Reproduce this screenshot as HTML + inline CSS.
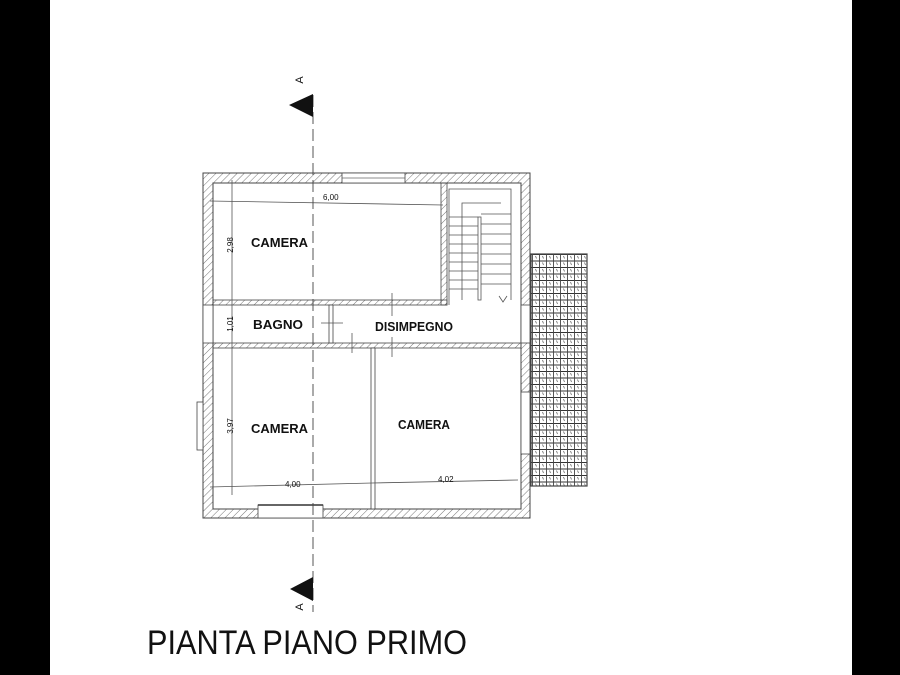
<!DOCTYPE html>
<html><head><meta charset="utf-8"><style>
html,body{margin:0;padding:0;background:#fff}
svg{display:block}
text{font-family:"Liberation Sans",Arial,sans-serif;fill:#111}
.l{font-weight:bold;font-size:13px}
</style></head><body>
<svg width="900" height="675" viewBox="0 0 900 675" xmlns="http://www.w3.org/2000/svg">
<defs>
<pattern id="h" width="5" height="5" patternUnits="userSpaceOnUse" patternTransform="rotate(45)">
<line x1="0" y1="0" x2="0" y2="5" stroke="#666" stroke-width="0.9"/>
</pattern>
<pattern id="g" x="531" y="254" width="7" height="6.5" patternUnits="userSpaceOnUse">
<line x1="0" y1="0.5" x2="7" y2="0.5" stroke="#333" stroke-width="1"/>
<line x1="1.5" y1="0" x2="1.5" y2="6.5" stroke="#444" stroke-width="0.9"/>
<line x1="4.5" y1="2" x2="5.5" y2="4.5" stroke="#666" stroke-width="0.8"/>
</pattern>
</defs>
<rect x="0" y="0" width="50" height="675" fill="#000"/>
<rect x="852" y="0" width="48" height="675" fill="#000"/>

<rect x="531" y="254" width="56" height="232" fill="url(#g)" stroke="#444" stroke-width="1.2"/>

<path d="M203,173 L530,173 L530,518 L203,518 Z M213,183 L213,509 L521,509 L521,183 Z" fill="url(#h)" fill-rule="evenodd" stroke="#444" stroke-width="1"/>
<rect x="213" y="183" width="308" height="326" fill="#fff" stroke="#444" stroke-width="1"/>
<rect x="441" y="183" width="6" height="122" fill="url(#h)" stroke="#444" stroke-width="0.8"/>
<rect x="213" y="300" width="234" height="5" fill="url(#h)" stroke="#444" stroke-width="0.8"/>
<rect x="213" y="343" width="308" height="5" fill="url(#h)" stroke="#444" stroke-width="0.8"/>
<rect x="329" y="305" width="4" height="38" fill="#fff" stroke="#444" stroke-width="0.8"/>
<rect x="371" y="348" width="4" height="161" fill="#fff" stroke="#444" stroke-width="0.8"/>
<rect x="342" y="173" width="63" height="10" fill="#fff" stroke="#444" stroke-width="0.8"/>
<line x1="342" y1="178" x2="405" y2="178" stroke="#666" stroke-width="0.7"/>
<rect x="258" y="505" width="65" height="13" fill="#fff" stroke="#444" stroke-width="0.8"/>
<line x1="258" y1="505" x2="323" y2="505" stroke="#333" stroke-width="1.5"/>
<rect x="197" y="402" width="6" height="48" fill="#fff" stroke="#444" stroke-width="0.8"/>
<rect x="203" y="305" width="10" height="38" fill="#fff" stroke="#444" stroke-width="0.8"/>
<rect x="521" y="305" width="9" height="38" fill="#fff" stroke="#444" stroke-width="0.8"/>
<rect x="521" y="392" width="9" height="62" fill="#fff" stroke="#444" stroke-width="0.8"/>

<g stroke="#555" stroke-width="0.8" fill="none">
<path d="M449,305 L449,189 L511,189 L511,300"/>
<path d="M462,300 L462,203 L501,203"/>
<rect x="478" y="217" width="3" height="83"/>
<line x1="449" y1="217" x2="478" y2="217"/><line x1="449" y1="226" x2="478" y2="226"/>
<line x1="449" y1="235" x2="478" y2="235"/><line x1="449" y1="244" x2="478" y2="244"/>
<line x1="449" y1="253" x2="478" y2="253"/><line x1="449" y1="262" x2="478" y2="262"/>
<line x1="449" y1="271" x2="478" y2="271"/><line x1="449" y1="280" x2="478" y2="280"/>
<line x1="449" y1="289" x2="478" y2="289"/>
<line x1="481" y1="214" x2="511" y2="214"/><line x1="481" y1="224" x2="511" y2="224"/>
<line x1="481" y1="234" x2="511" y2="234"/><line x1="481" y1="244" x2="511" y2="244"/>
<line x1="481" y1="254" x2="511" y2="254"/><line x1="481" y1="264" x2="511" y2="264"/>
<line x1="481" y1="274" x2="511" y2="274"/><line x1="481" y1="284" x2="511" y2="284"/>
<path d="M499,296 L503,302 L507,296"/>
</g>

<g stroke="#555" stroke-width="0.8">
<line x1="210" y1="201" x2="443" y2="205"/>
<line x1="232" y1="180" x2="232" y2="495"/>
<line x1="210" y1="487" x2="372" y2="483"/>
<line x1="372" y1="483" x2="518" y2="480"/>
<line x1="321" y1="323" x2="343" y2="323"/>
<line x1="392" y1="293" x2="392" y2="316"/>
<line x1="392" y1="337" x2="392" y2="357"/>
<line x1="352" y1="333" x2="352" y2="353"/>
</g>

<line x1="313" y1="95" x2="313" y2="612" stroke="#444" stroke-width="0.9" stroke-dasharray="12,5"/>
<polygon points="289,105 313,94 313,117" fill="#111"/>
<polygon points="290,589 313,577 313,601" fill="#111"/>
<text x="300" y="80" font-size="11" transform="rotate(-90 300 80)" text-anchor="middle" dominant-baseline="middle">A</text>
<text x="300" y="607" font-size="11" transform="rotate(-90 300 607)" text-anchor="middle" dominant-baseline="middle">A</text>

<text class="l" x="251" y="247" textLength="57" lengthAdjust="spacingAndGlyphs">CAMERA</text>
<text class="l" x="253" y="329" textLength="50" lengthAdjust="spacingAndGlyphs">BAGNO</text>
<text class="l" x="375" y="331" textLength="78" lengthAdjust="spacingAndGlyphs">DISIMPEGNO</text>
<text class="l" x="251" y="433" textLength="57" lengthAdjust="spacingAndGlyphs">CAMERA</text>
<text class="l" x="398" y="429" textLength="52" lengthAdjust="spacingAndGlyphs">CAMERA</text>
<text x="323" y="200" font-size="8">6,00</text>
<text x="285" y="487" font-size="8">4,00</text>
<text x="438" y="482" font-size="8">4,02</text>
<text x="233" y="245" font-size="8" transform="rotate(-90 233 245)" text-anchor="middle">2,98</text>
<text x="233" y="324" font-size="8" transform="rotate(-90 233 324)" text-anchor="middle">1,01</text>
<text x="233" y="426" font-size="8" transform="rotate(-90 233 426)" text-anchor="middle">3,97</text>

<text x="147" y="654" font-size="34" textLength="320" lengthAdjust="spacingAndGlyphs">PIANTA PIANO PRIMO</text>
</svg>
</body></html>
